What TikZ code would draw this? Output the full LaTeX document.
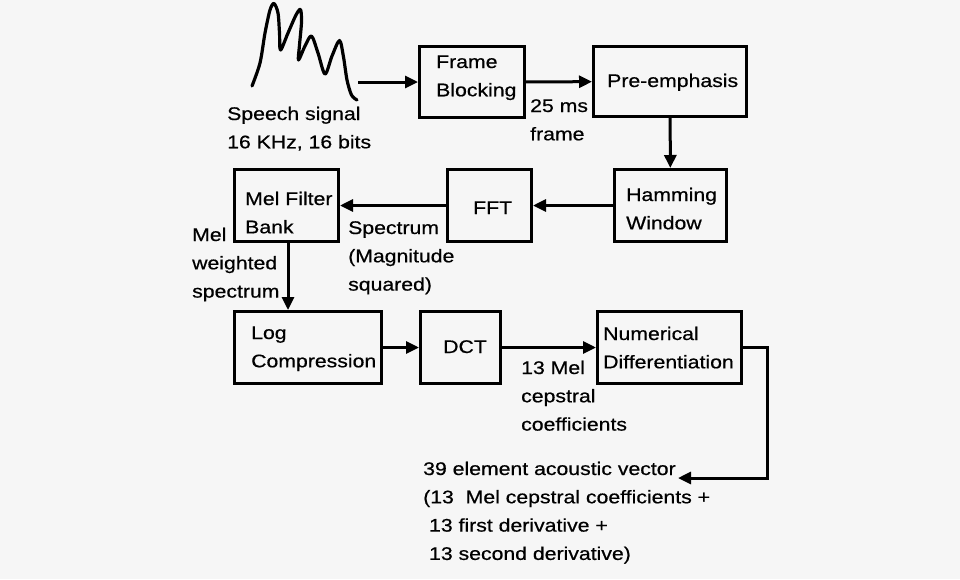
\documentclass[tikz,border=0pt]{standalone}
\usepackage{fontspec}
\setmainfont{Liberation Sans}[FakeStretch=1.16,FakeBold=0.6]
\usetikzlibrary{arrows.meta}
\newcommand\mylines[1]{\begin{tabular}[t]{@{}l@{}}#1\end{tabular}}
\definecolor{bgcol}{HTML}{F6F6F6}
\begin{document}
\begin{tikzpicture}[x=1pt,y=-1pt,
  stagebox/.style={draw, line width=3.2pt, inner sep=0pt},
  lbl/.style={anchor=base west, inner sep=0pt, font=\fontsize{18.3}{28.3}\selectfont},
  flow/.style={line width=3pt, -{Triangle[length=13pt,width=12pt]}}]
\useasboundingbox (0,0) rectangle (960,579);
\fill[bgcol] (0,0) rectangle (960,579);

% boxes
\node[stagebox, minimum width=104.8pt, minimum height=70.8pt] (fb) at (472,82) {};
\node[stagebox, minimum width=152.8pt, minimum height=69.8pt] (pe) at (670,81.5) {};
\node[stagebox, minimum width=111.8pt, minimum height=71.8pt] (hw) at (670.5,205.5) {};
\node[stagebox, minimum width=83.8pt, minimum height=71.8pt] (fft) at (489.5,205.5) {};
\node[stagebox, minimum width=103.8pt, minimum height=71.8pt] (mel) at (286.5,205.5) {};
\node[stagebox, minimum width=146.8pt, minimum height=71.8pt] (log) at (308,347.5) {};
\node[stagebox, minimum width=79.8pt, minimum height=71.8pt] (dct) at (460.5,347.5) {};
\node[stagebox, minimum width=143.8pt, minimum height=71.8pt] (nd) at (669.5,347.5) {};

% box texts
\node[lbl] (tfb) at (436,68) {\mylines{Frame\\Blocking}};
\node[lbl] (tpe) at (607,87) {Pre-emphasis};
\node[lbl] (thw) at (626,201) {\mylines{Hamming\\Window}};
\node[lbl] (tfft) at (473,214) {FFT};
\node[lbl] (tmel) at (245,205) {\mylines{Mel Filter\\Bank}};
\node[lbl] (tlog) at (251,339) {\mylines{Log\\Compression}};
\node[lbl] (tdct) at (443,353) {DCT};
\node[lbl] (tnd) at (603,340) {\mylines{Numerical\\Differentiation}};

% labels
\node[lbl] (tsig) at (227,120) {\mylines{Speech signal\\16 KHz, 16 bits}};
\node[lbl] (t25) at (530,112) {\mylines{25 ms\\frame}};
\node[lbl] (tspec) at (348,234) {\mylines{Spectrum\\(Magnitude\\squared)}};
\node[lbl] (tmw) at (192,241) {\mylines{Mel\\weighted\\spectrum}};
\node[lbl] (t13) at (521,374) {\mylines{13 Mel\\cepstral\\coefficients}};
\node[lbl] (tvec) at (423,475) {\mylines{39 element acoustic vector\\(13~ Mel cepstral coefficients +\\~13 first derivative +\\~13 second derivative)}};

% speech waveform
\draw[line width=3.2pt, line cap=round, line join=round]
  plot[smooth, tension=0.5] coordinates {(252,86) (260,63) (265,33) (270,10) (274,3.5) (278,13) (279.5,33) (280.5,50) (288,33) (296,15) (300.5,9.5) (301.5,22) (299.5,45) (298.5,60) (305,46) (311.5,36) (318,53) (325,74) (332,56) (339.5,40.5) (343.5,57) (347,80) (351.5,95) (357,100)};

% connectors
\coordinate (ws) at (358,82);
\coordinate (corner) at (767,478);
\coordinate (vec) at (678,478);
\draw[flow] (ws) -- (fb);
\draw[flow] (fb) -- (pe);
\draw[flow] (pe) -- (hw);
\draw[flow] (hw) -- (fft);
\draw[flow] (fft) -- (mel);
\draw[flow] ([xshift=1.5pt]mel.south) -- ([xshift=1.5pt]mel.south |- log.north);
\draw[flow] (log) -- (dct);
\draw[flow] (dct) -- (nd);
\draw[flow] (nd.east) -| (corner) -- (vec);
\end{tikzpicture}
\end{document}
